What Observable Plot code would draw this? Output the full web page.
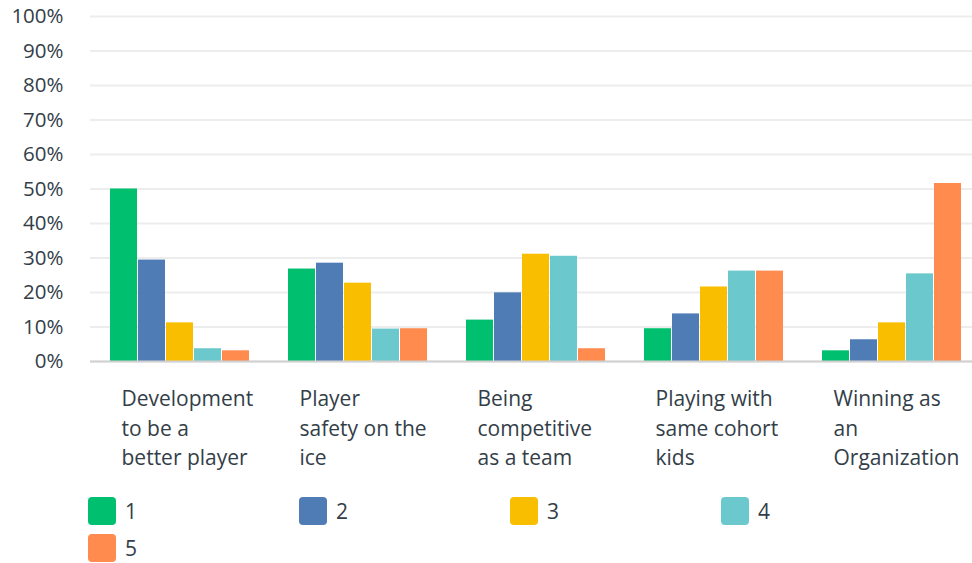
<!DOCTYPE html>
<html><head><meta charset="utf-8">
<script src="https://cdn.jsdelivr.net/npm/d3@7"></script>
<script src="https://cdn.jsdelivr.net/npm/@observablehq/plot@0.6"></script>
<style>
body{margin:0;background:#fff;font-family:"Open Sans",sans-serif;}
#legend{display:grid;grid-template-columns:repeat(4,211px);margin-left:88px;row-gap:9px;margin-top:17px}
.item{display:flex;align-items:center;font-size:21px;color:#333e48;height:28px}
.sw{width:28px;height:28px;border-radius:4px;margin-right:9px;flex:none}
</style></head><body><div id="chart"></div><div id="legend"></div>
<script>
const categories = ["Development to be a better player", "Player safety on the ice", "Being competitive as a team", "Playing with same cohort kids", "Winning as an Organization"];
const categoryLabels = ["Development\nto be a\nbetter player", "Player\nsafety on the\nice", "Being\ncompetitive\nas a team", "Playing with\nsame cohort\nkids", "Winning as\nan\nOrganization"];
const ratings = ["1", "2", "3", "4", "5"];
const rating1 = [50.0, 26.8, 12.0, 9.5, 3.1];
const rating2 = [29.4, 28.5, 19.9, 13.8, 6.3];
const rating3 = [11.2, 22.7, 31.1, 21.6, 11.2];
const rating4 = [3.7, 9.4, 30.5, 26.2, 25.4];
const rating5 = [3.1, 9.5, 3.7, 26.2, 51.6];
const colors = ["#00bf6f", "#507cb6", "#f9be00", "#6bc8cd", "#ff8b4f"];
const yTicks = [0, 10, 20, 30, 40, 50, 60, 70, 80, 90, 100];

const series = [rating1, rating2, rating3, rating4, rating5];
const data = ratings.flatMap((r, i) => categories.map((c, j) => ({category: c, rating: r, value: series[i][j]})));

const chart = Plot.plot({
  width: 972, height: 480,
  marginLeft: 89, marginRight: 0, marginTop: 16, marginBottom: 119,
  style: {fontFamily: "'Open Sans', sans-serif", fontSize: "20px", color: "#333e48", background: "#fff"},
  fx: {domain: categories, range: [90, 980], padding: 0, axis: null},
  x: {domain: ratings, paddingInner: 0.04, paddingOuter: 0.67, axis: null},
  y: {domain: [0, 100], axis: null},
  color: {domain: ratings, range: colors},
  marks: [
    Plot.gridY(yTicks, {stroke: "#ededed", strokeOpacity: 1, strokeWidth: 2}),
    Plot.axisY(yTicks, {label: null, tickSize: 0, tickPadding: 27, tickFormat: d => d + "%", fill: "#333e48", fontSize: 20.5, line: true, stroke: "#d4d4d4"}),
    Plot.barY(data, {fx: "category", x: "rating", y: "value", fill: "rating"}),
    Plot.ruleY([0], {stroke: "#d0d0d0", strokeWidth: 2}),
    Plot.text(categories, {fx: d => d, text: (d, i) => categoryLabels[i], frameAnchor: "bottom", textAnchor: "start", lineAnchor: "top", dx: -58, dy: 24, lineHeight: 1.4, fontSize: 21, fill: "#333e48"})
  ]
});
document.getElementById("chart").appendChild(chart);

const legend = d3.select("#legend");
ratings.forEach((r, i) => {
  const it = legend.append("div").attr("class", "item");
  it.append("div").attr("class", "sw").style("background", colors[i]);
  it.append("span").text(r);
});
</script></body></html>
